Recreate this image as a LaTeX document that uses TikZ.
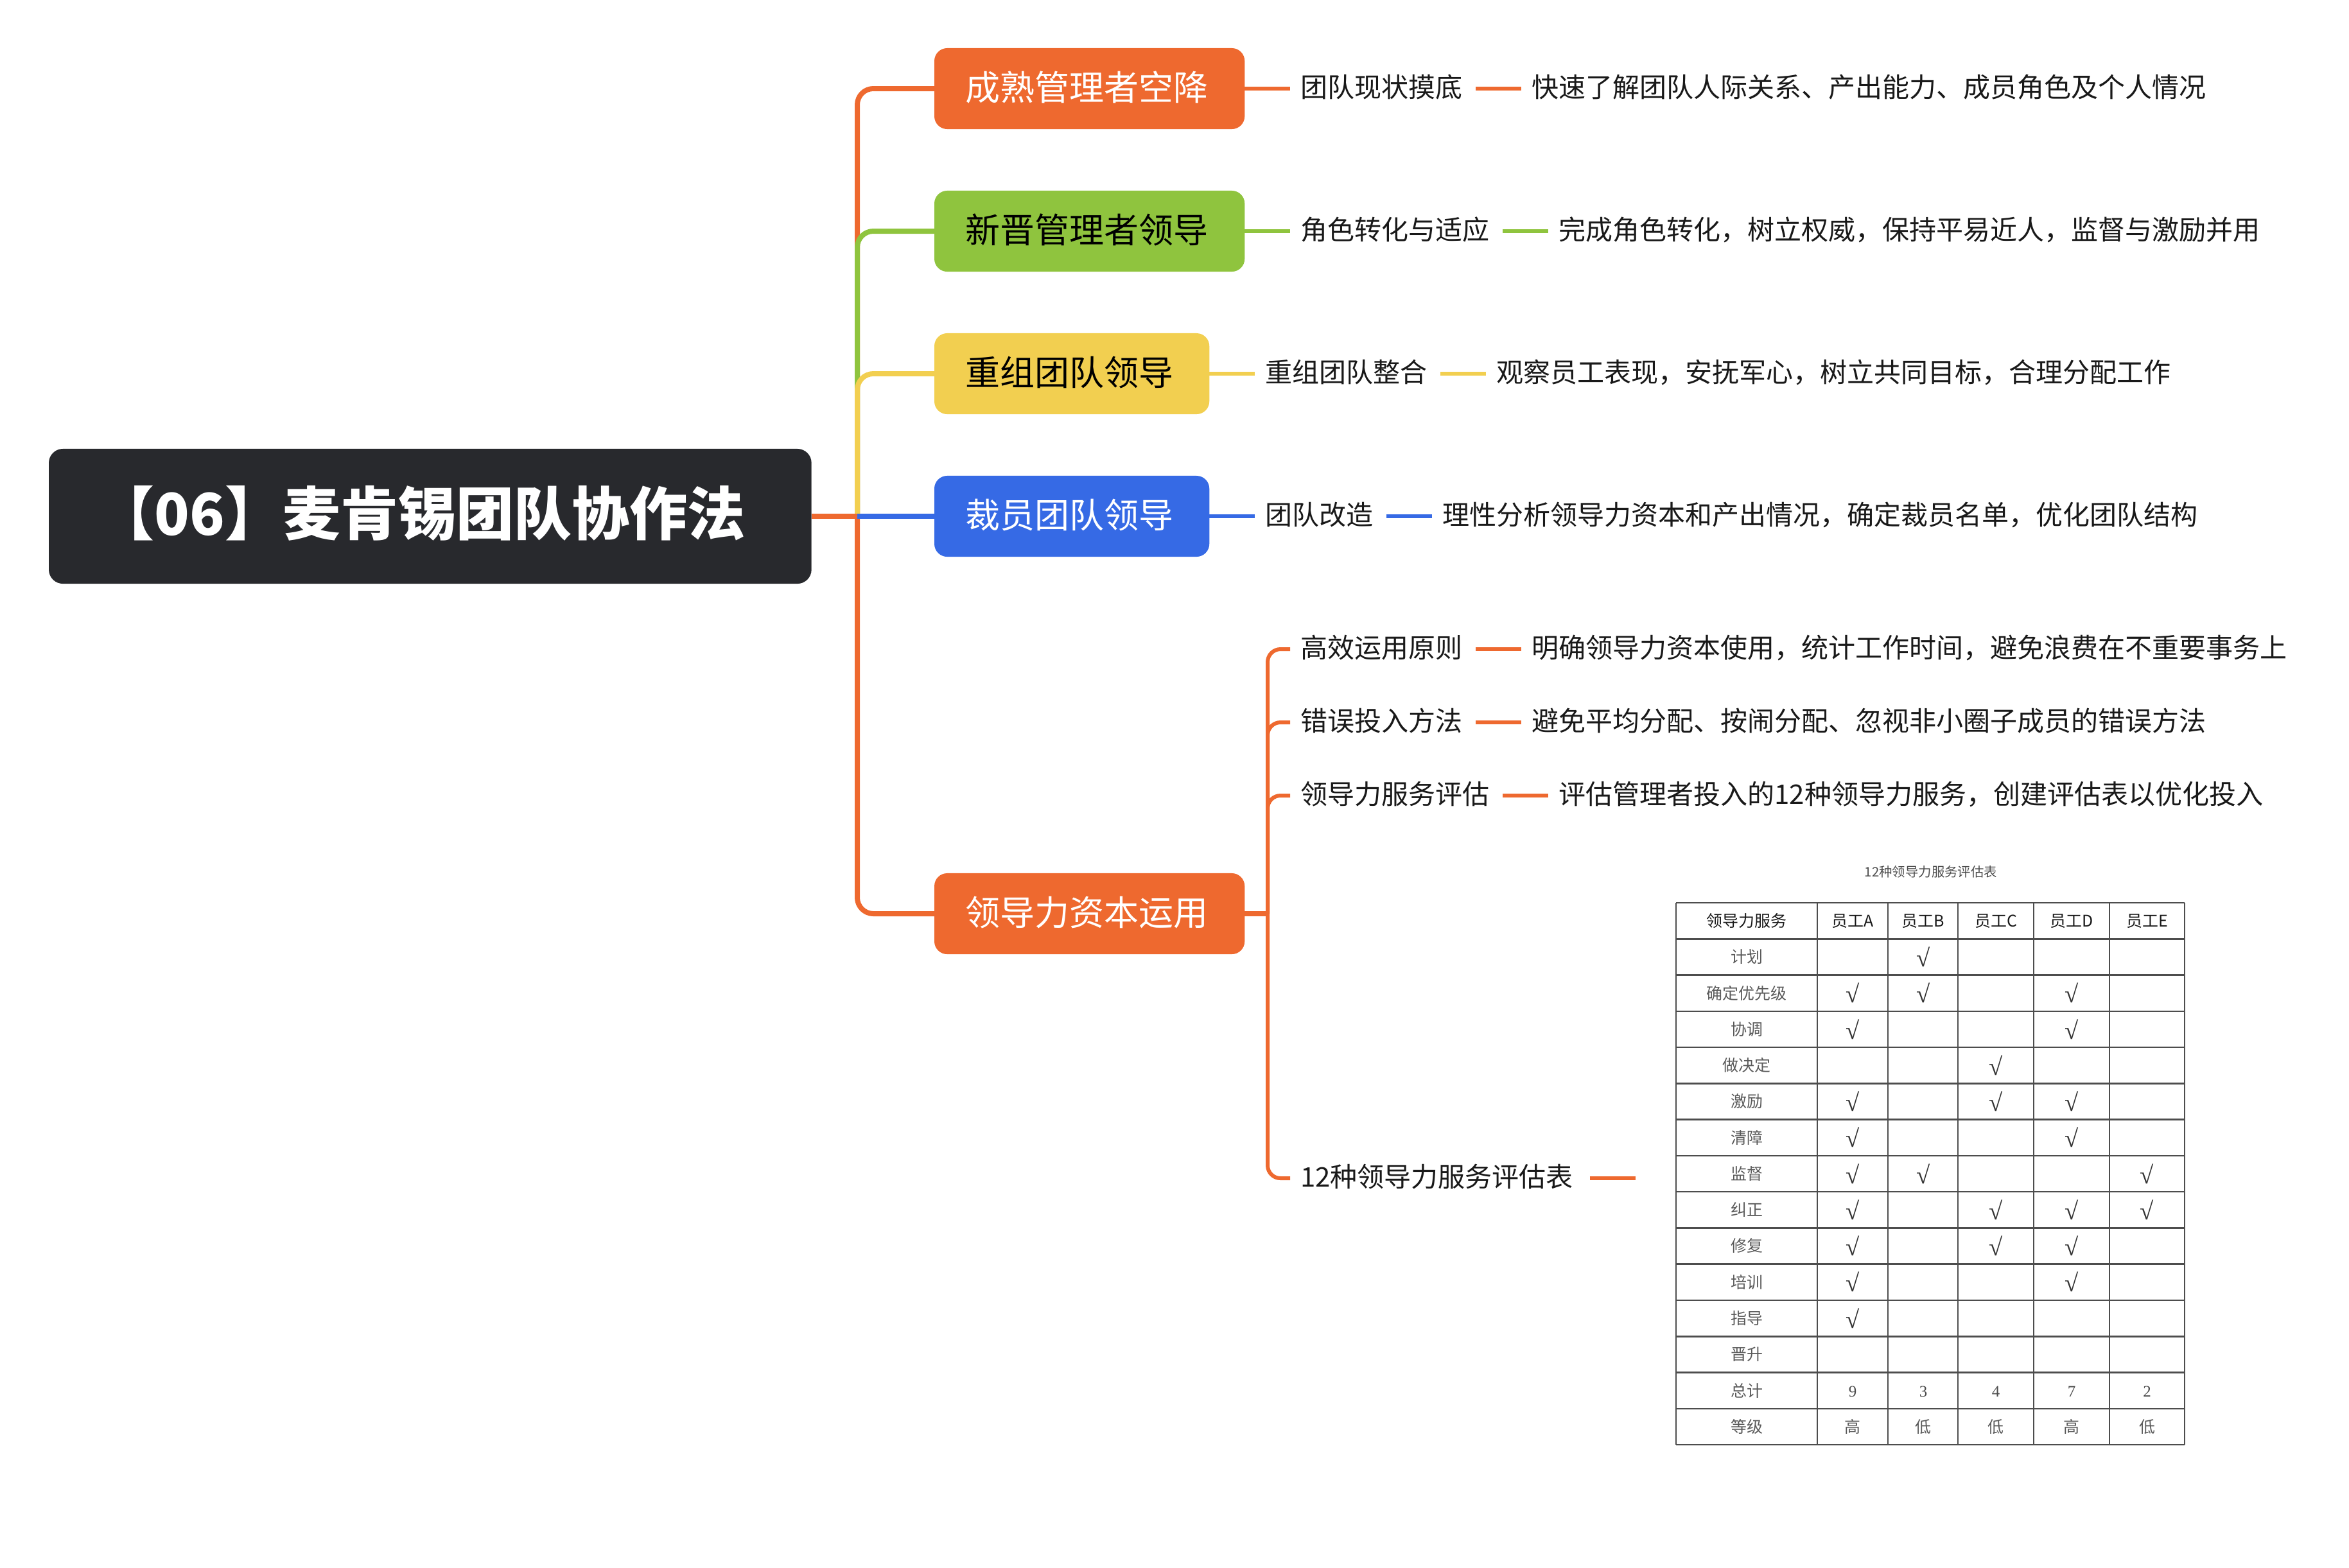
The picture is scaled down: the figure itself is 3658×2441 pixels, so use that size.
\documentclass[tikz,border=0pt]{standalone}
\usepackage{fontspec}
\setmainfont{Noto Sans CJK SC}
\newfontfamily\chkfont{Liberation Serif}
\usetikzlibrary{positioning}
\definecolor{bleft}{HTML}{EE692F}
\definecolor{bgreen}{HTML}{8FC43E}
\definecolor{byellow}{HTML}{F2CF50}
\definecolor{bblue}{HTML}{366AE5}
\definecolor{bdark}{HTML}{28292D}
\definecolor{tabline}{HTML}{4D4D4D}
\definecolor{tabtext}{HTML}{5A5A5A}
\tikzset{
  rootbox/.style={rectangle,rounded corners=0.22cm,fill=bdark,text=white,inner sep=0pt,outer sep=0pt,
    minimum width=11.87cm,minimum height=2.10cm,anchor=west,text height=.79cm,text depth=.20cm,
    execute at end node={\kern0.28cm},
    font=\fontsize{25.6}{30}\selectfont\bfseries},
  topicbox/.style={rectangle,rounded corners=0.2cm,inner sep=0pt,outer sep=0pt,
    minimum height=1.26cm,anchor=west,text height=.475cm,text depth=.115cm,
    execute at end node={\kern0.08cm},
    font=\fontsize{15.36}{18}\selectfont},
  leaf/.style={inner xsep=0.16cm,inner ysep=0pt,outer sep=0pt,anchor=west,text=black!90,
    text height=.37cm,text depth=.10cm,font=\fontsize{11.95}{14}\selectfont},
  branchline/.style={line width=0.08cm,rounded corners=0.25cm},
  leafline/.style={line width=0.06cm,rounded corners=0.2cm},
  cell/.style={inner sep=0pt,text=tabtext,text height=.22cm,text depth=.03cm,
    font=\fontsize{7.1}{9}\selectfont},
  headcell/.style={cell,text=black!90},
  tick/.style={inner sep=0pt,text=black!80,font=\fontsize{11}{13}\selectfont\chkfont}
}
\begin{document}
\begin{tikzpicture}[x=0.01cm,y=-0.01cm]
  \useasboundingbox (0,0) rectangle (3658,2441);
  % Racine et branches principales
  \node[rootbox] (root) at (76,804) {【06】麦肯锡团队协作法};
  \node[topicbox,fill=bleft,text=white,minimum width=4.83cm] (n1) at (1455,138) {成熟管理者空降};
  \node[topicbox,fill=bgreen,text=black,minimum width=4.83cm] (n2) at (1455,360) {新晋管理者领导};
  \node[topicbox,fill=byellow,text=black,minimum width=4.28cm] (n3) at (1455,582) {重组团队领导};
  \node[topicbox,fill=bblue,text=white,minimum width=4.28cm] (n4) at (1455,804) {裁员团队领导};
  \node[topicbox,fill=bleft,text=white,minimum width=4.83cm] (n5) at (1455,1423) {领导力资本运用};
  \coordinate (trunk) at (1335,804);
  \coordinate (subtrunk) at (1974,1423);
  \draw[branchline,bleft] (trunk) |- (n1.west);
  \draw[branchline,bgreen] (trunk) |- (n2.west);
  \draw[branchline,byellow] (trunk) |- (n3.west);
  \draw[branchline,bleft] (trunk) |- (n5.west);
  \draw[branchline,bblue] (trunk) -- (n4.west);
  \draw[branchline,bleft] (root.east) -- (trunk);
  % Feuilles des quatre premieres branches
  \foreach \src/\col/\lx/\y/\ta/\tb in {
    n1/bleft/2009/138/团队现状摸底/快速了解团队人际关系、产出能力、成员角色及个人情况,
    n2/bgreen/2009/360/角色转化与适应/完成角色转化，树立权威，保持平易近人，监督与激励并用,
    n3/byellow/1954/582/重组团队整合/观察员工表现，安抚军心，树立共同目标，合理分配工作,
    n4/bblue/1954/804/团队改造/理性分析领导力资本和产出情况，确定裁员名单，优化团队结构} {
    \node[leaf] (a\src) at (\lx,\y) {\ta};
    \node[leaf,right=0.76cm of a\src] (b\src) {\tb};
    \draw[leafline,\col] (\src.east) -- (a\src.west);
    \draw[leafline,\col,shorten <=0.05cm] (a\src.east) -- (b\src.west);
  }
  % Feuilles de la derniere branche
  \foreach \id/\y/\ta/\tb in {
    c1/1011/高效运用原则/明确领导力资本使用，统计工作时间，避免浪费在不重要事务上,
    c2/1125/错误投入方法/避免平均分配、按闹分配、忽视非小圈子成员的错误方法,
    c3/1239/领导力服务评估/评估管理者投入的12种领导力服务，创建评估表以优化投入} {
    \node[leaf] (a\id) at (2009,\y) {\ta};
    \node[leaf,right=0.76cm of a\id] (b\id) {\tb};
    \draw[leafline,bleft] (subtrunk) |- (a\id.west);
    \draw[leafline,bleft,shorten <=0.05cm] (a\id.east) -- (b\id.west);
  }
  \node[leaf] (c4) at (2009,1835) {12种领导力服务评估表};
  \coordinate (tabstub) at (2547,1835);
  \draw[leafline,bleft] (subtrunk) |- (c4.west);
  \draw[leafline,bleft,shorten <=0.10cm] (c4.east) -- (tabstub);
  \draw[branchline,bleft] (n5.east) -- (subtrunk);
  % Tableau d'evaluation
  \node[cell,text=black!70,font=\fontsize{5.8}{7}\selectfont] (tabtitle) at (3007,1356) {12种领导力服务评估表};
  \foreach \x in {2610,2830,2940,3049,3167,3285,3402}
    \draw[tabline,line width=0.025cm] (\x,1406) -- (\x,2250);
  \foreach \r in {0,...,15}
    \draw[tabline,line width=0.025cm] (2610,1406+56.27*\r) -- (3402,1406+56.27*\r);
  \foreach \col/\x/\lab in {s/2720/领导力服务,A/2885/员工A,B/2995/员工B,C/3108/员工C,D/3226/员工D,E/3343.5/员工E}
    \node[headcell] (head\col) at (\x,1434) {\lab};
  \foreach \lab [count=\r] in {计划,确定优先级,协调,做决定,激励,清障,监督,纠正,修复,培训,指导,晋升,总计,等级}
    \node[cell] (serv\r) at (2720,1434+56.27*\r) {\lab};
  \foreach \r/\col/\x in {
    1/B/2995,
    2/A/2885,2/B/2995,2/D/3226,
    3/A/2885,3/D/3226,
    4/C/3108,
    5/A/2885,5/C/3108,5/D/3226,
    6/A/2885,6/D/3226,
    7/A/2885,7/B/2995,7/E/3343.5,
    8/A/2885,8/C/3108,8/D/3226,8/E/3343.5,
    9/A/2885,9/C/3108,9/D/3226,
    10/A/2885,10/D/3226,
    11/A/2885}
    \node[tick] (tick\r\col) at (\x,1434+56.27*\r) {√};
  \foreach \x/\col/\tot/\lev in {2885/A/9/高,2995/B/3/低,3108/C/4/低,3226/D/7/高,3343.5/E/2/低} {
    \node[cell,text=black!70] (tot\col) at (\x,1434+56.27*13) {\chkfont\tot};
    \node[cell] (lev\col) at (\x,1434+56.27*14) {\lev};
  }
\end{tikzpicture}
\end{document}
